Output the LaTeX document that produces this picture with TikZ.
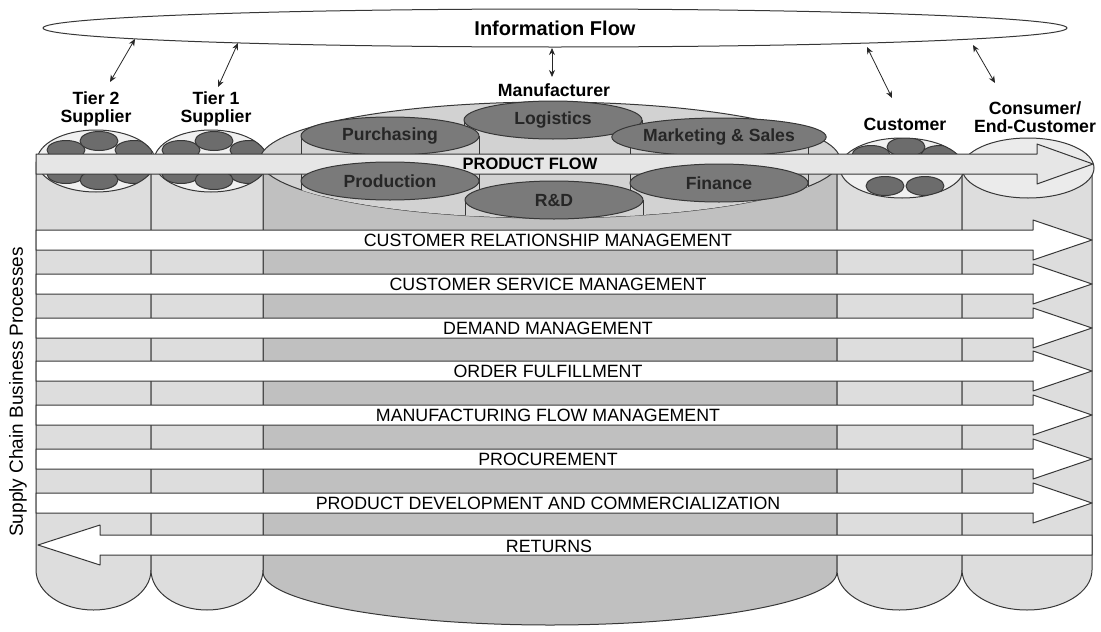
\documentclass[tikz,border=0pt]{standalone}
\usepackage{fontspec}
\setmainfont{Liberation Sans}
\usetikzlibrary{arrows.meta,positioning,shapes.geometric}
\definecolor{BodyGray}{RGB}{221,221,221}
\definecolor{MfgGray}{RGB}{192,192,192}
\definecolor{MfgTop}{RGB}{210,210,210}
\definecolor{FuncGray}{RGB}{122,122,122}
\definecolor{UnitGray}{RGB}{108,108,108}
\definecolor{CapGray}{RGB}{240,240,240}
\definecolor{FlowGray}{RGB}{230,230,230}
\definecolor{InkGray}{RGB}{55,55,55}

\begin{document}
\begin{tikzpicture}[
    x=1pt, y=-1pt, line join=round,
    font=\fontsize{17.8}{20}\selectfont,
    edge/.style={draw=InkGray, line width=1pt},
    body/.style={edge, fill=BodyGray},
    unit/.style={edge, fill=UnitGray, ellipse, inner sep=0pt, minimum width=38pt, minimum height=19pt},
    func/.style={edge, fill=FuncGray, ellipse, inner sep=0pt, minimum width=178pt, minimum height=38pt,
      text=black!85, font=\bfseries\fontsize{17.6}{20}\selectfont},
    lane/.style={edge, fill=white},
    role/.style={align=center, font=\bfseries\fontsize{17.7}{17.5}\selectfont},
    infoarr/.style={{Stealth[length=7pt,width=6pt]}-{Stealth[length=7pt,width=6pt]}, draw=black!85, line width=0.8pt}
  ]
  \useasboundingbox (0,0) rectangle (1101,632);

  \node[edge, fill=white, ellipse, inner sep=0pt, minimum width=1024pt, minimum height=38pt,
    font=\bfseries\fontsize{20}{22}\selectfont] (info) at (555,28) {Information Flow};
  \foreach \n/\xa/\ya/\xb/\yb in {t2/135/39/110/82, t1/238/43/218/87, mfg/552/48/552/77, cust/867/47/892/98, cons/973/45/995/83} {
    \coordinate (top-\n) at (\xa,\ya);
    \coordinate (bot-\n) at (\xb,\yb);
    \draw[infoarr] (top-\n) -- (bot-\n);
  }

  \draw[edge, fill=MfgGray] (263,160) -- (263,572) arc[start angle=180, end angle=360, x radius=287pt, y radius=53pt] -- (837,160) -- cycle;
  \foreach \xl/\xr/\hw/\yt in {36/151/57.5pt/162, 151/263/56pt/162, 837/962/62.5pt/167, 962/1092/65pt/168}
    \draw[body] (\xl,\yt) -- (\xl,570) arc[start angle=180, end angle=360, x radius=\hw, y radius=40pt] -- (\xr,\yt) -- cycle;

  \foreach \c/\rx/\n in {96/59pt/a, 211/57pt/b} {
    \fill[CapGray] (\c,161) ellipse[x radius=\rx, y radius=31pt];
    \begin{scope}
      \clip (\c,161) ellipse[x radius=\rx, y radius=31pt];
      \node[unit] (\n-l1) at (\c-30,150) {};
      \node[unit] (\n-r1) at (\c+38,150) {};
      \node[unit] (\n-c1) at (\c+3,141) {};
      \node[unit] (\n-l2) at (\c-30,174) {};
      \node[unit] (\n-r2) at (\c+38,174) {};
      \node[unit] (\n-c2) at (\c+3,180) {};
    \end{scope}
    \draw[edge] (\c,161) ellipse[x radius=\rx, y radius=31pt];
  }
  \fill[CapGray] (902,168) ellipse[x radius=62pt, y radius=30pt];
  \begin{scope}
    \clip (902,168) ellipse[x radius=62pt, y radius=30pt];
    \node[unit] (c-l1) at (871,155) {};
    \node[unit] (c-r1) at (940,155) {};
    \node[unit] (c-c1) at (906,147) {};
    \node[unit] (c-l2) at (885,186) {};
    \node[unit] (c-r2) at (925,186) {};
  \end{scope}
  \draw[edge] (902,168) ellipse[x radius=62pt, y radius=30pt];
  \draw[edge, fill=BodyGray!60!white] (1028,168) ellipse[x radius=66pt, y radius=30pt];

  \draw[edge, fill=MfgTop] (550,160) ellipse[x radius=290pt, y radius=58pt];
  \foreach \cx/\cy/\n/\txt in {553/120/logi/Logistics, 390/136/purch/Purchasing, 719/137/mks/Marketing \& Sales} {
    \begin{scope}
      \clip (550,160) ellipse[x radius=290pt, y radius=58pt];
      \fill[MfgTop] (\cx-89,\cy) rectangle (\cx+89,\cy+60);
      \draw[edge] (\cx-89,\cy) -- ++(0,60) (\cx+89,\cy) -- ++(0,60);
    \end{scope}
    \node[func] (\n) at (\cx,\cy) {\txt};
  }

  \draw[edge, fill=FlowGray] (36,154) -- (1037,154) -- (1037,144) -- (1093,164) -- (1037,184) -- (1037,174) -- (36,174) -- cycle;
  \node[font=\bfseries\fontsize{16.5}{18}\selectfont] (pflow) at (530,164) {PRODUCT FLOW};

  \foreach \cx/\cy/\n/\txt in {390/181/prod/Production, 719/183/fin/Finance, 554/200/rnd/R\&D} {
    \begin{scope}
      \clip (550,160) ellipse[x radius=290pt, y radius=58pt];
      \fill[MfgTop] (\cx-89,\cy) rectangle (\cx+89,\cy+60);
      \draw[edge] (\cx-89,\cy) -- ++(0,60) (\cx+89,\cy) -- ++(0,60);
    \end{scope}
    \node[func] (\n) at (\cx,\cy) {\txt};
  }

  \foreach \y/\n/\txt in {240/crm/CUSTOMER RELATIONSHIP MANAGEMENT, 284/csm/CUSTOMER SERVICE MANAGEMENT,
      328/dm/DEMAND MANAGEMENT, 371/of/ORDER FULFILLMENT, 415/mfm/MANUFACTURING FLOW MANAGEMENT,
      459/procure/PROCUREMENT, 503/pdc/PRODUCT DEVELOPMENT AND COMMERCIALIZATION} {
    \draw[lane] (36,\y-10) -- (1033,\y-10) -- (1033,\y-20) -- (1092,\y) -- (1033,\y+20) -- (1033,\y+10) -- (36,\y+10) -- cycle;
    \node (\n) at (548,\y) {\txt};
  }
  \draw[lane] (1092,535) -- (100,535) -- (100,525) -- (38,545) -- (100,565) -- (100,555) -- (1092,555) -- cycle;
  \node (ret) at (549,546) {RETURNS};

  \node[role] (tier2) at (96,109) {Tier 2\\Supplier};
  \node[role] (tier1) at (216,109) {Tier 1\\Supplier};
  \node[role] (mfr) at (554,90) {Manufacturer};
  \node[role] (cust) at (905,124) {Customer};
  \node[role] (cons) at (1035,117) {Consumer/\\End-Customer};
  \node[rotate=90, font=\fontsize{19}{20}\selectfont] (scbp) at (18,392) {Supply Chain Business Processes};
\end{tikzpicture}
\end{document}
